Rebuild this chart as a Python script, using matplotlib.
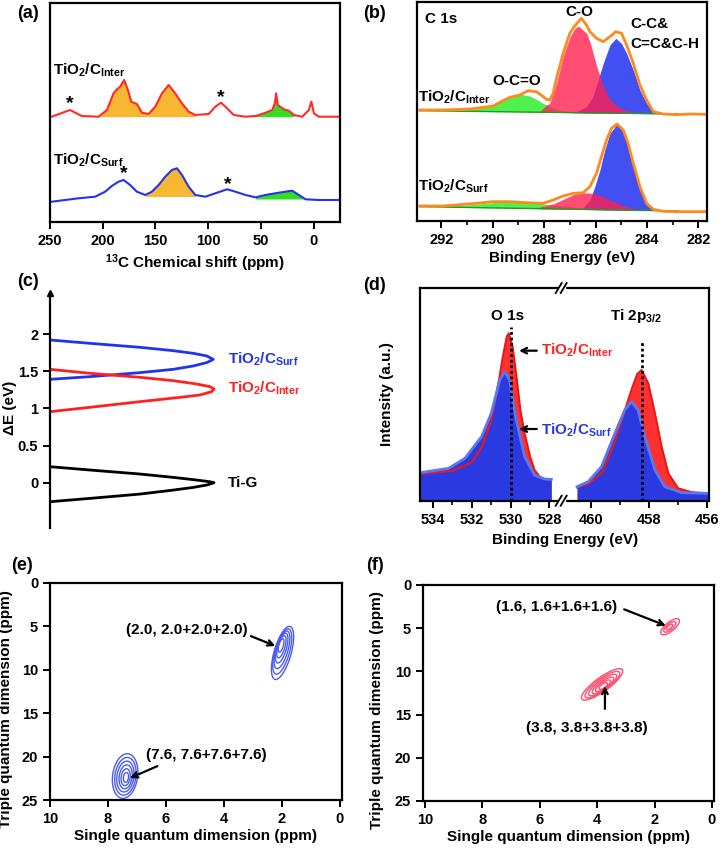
import numpy as np
import matplotlib.pyplot as plt
from matplotlib.patches import Ellipse, Rectangle
from matplotlib.lines import Line2D
from matplotlib.transforms import ScaledTranslation

plt.rcParams['font.family'] = 'Liberation Sans'
plt.rcParams['font.weight'] = 'bold'
plt.rcParams['axes.labelweight'] = 'bold'
plt.rcParams['mathtext.fontset'] = 'custom'
plt.rcParams['mathtext.rm'] = 'Liberation Sans:bold'
plt.rcParams['mathtext.it'] = 'Liberation Sans:bold'
plt.rcParams['mathtext.bf'] = 'Liberation Sans:bold'
plt.rcParams['axes.linewidth'] = 1.6
plt.rcParams['xtick.major.width'] = 1.4
plt.rcParams['ytick.major.width'] = 1.4
plt.rcParams['xtick.minor.width'] = 1.2
plt.rcParams['xtick.labelsize'] = 10.5
plt.rcParams['ytick.labelsize'] = 10.5

# ---- (a) 13C NMR ----
nmr_ppm_inter = [248.4, 231, 219.9, 204, 196, 189.8, 186.6, 183.5, 179.7, 176.1, 173, 167.6,
                 162.8, 156.5, 150.2, 143.8, 137.5, 131.2, 124.8, 118.5, 112.2, 99.5, 93.2,
                 87.8, 82, 75.8, 64.6, 55.1, 45.6, 39.3, 36.8, 35.6, 34, 28.2, 23.5, 18.7,
                 10.8, 4.5, 2.2, -0.3, -5, -25]
nmr_inter = [105.3, 112, 106, 105.3, 112, 128.6, 132.6, 135.3, 142, 132, 120.3, 118,
             109.3, 108, 115.3, 128.6, 137, 128.6, 118.6, 110.3, 107, 108, 115.3,
             119.3, 113.6, 107, 105.3, 106, 109.3, 112, 118.6, 128.6, 117, 112.6, 111.3, 107,
             105.3, 112, 120.3, 108.6, 105.3, 105.3]
nmr_ppm_surf = [248.4, 223, 207.2, 197.7, 191.4, 185, 180.3, 174, 167.6, 159.7, 153.4, 147,
                140.7, 134.4, 129.6, 124.8, 118.5, 112.2, 102.7, 93.2, 82, 74.2, 64.6, 55.1,
                45.6, 33, 20.3, 14, 7.6, -5, -25]
nmr_surf = [20.3, 23.7, 25.3, 30.3, 36, 40.3, 42, 37, 30.3, 27, 30.3, 37,
            45.3, 52, 53.7, 47, 35.3, 27, 25.3, 28.7, 32.7, 30.3, 27, 24.7,
            27, 29.3, 31.3, 27, 22.7, 22, 22]
nmr_stars = [(231, 118), (88, 124), (180, 48), (81, 37)]

# ---- (b) XPS C 1s ----
c1s_ev = [292.84, 291.94, 290.9, 290.64, 289.99, 289.6, 289.34, 288.95, 288.62, 288.3, 288.04,
          287.91, 287.78, 287.65, 287.52, 287.26, 287.0, 286.81, 286.55, 286.35, 286.22, 285.96,
          285.7, 285.44, 285.21, 284.99, 284.79, 284.53, 284.27, 284.01, 283.75, 283.36,
          282.84, 282.3, 281.68]
c1s_inter = [330, 330, 333, 335, 342, 358, 368, 375, 388, 385, 370,
             362, 360, 380, 425, 500, 560, 582, 605, 585, 565, 545,
             535, 550, 565, 560, 525, 470, 405, 360, 325, 318,
             316, 318, 317]
c1s_ev_surf = [292.84, 291.94, 290.64, 289.99, 289.34, 288.69, 288.04, 287.65, 287.26, 286.87,
               286.48, 286.22, 285.96, 285.77, 285.57, 285.38, 285.16, 284.92, 284.73, 284.53,
               284.27, 284.01, 283.75, 283.36, 282.84, 281.68]
c1s_surf = [42, 42, 50, 55, 55, 52, 50, 60, 72, 80,
            82, 100, 140, 190, 240, 275, 288, 270, 230, 170,
            100, 50, 32, 26, 25, 25]
bg_inter = ([292.84, 282.8], [328, 318])
bg_surf = ([292.84, 282.8], [40, 27])
# fitted components (top edge), Inter sample
oco_ev = [291.5, 290.65, 290.0, 289.6, 289.34, 288.95, 288.56, 288.3, 288.04, 287.78, 287.52, 287.26, 286.73, 286.0]
oco_int = [328, 333, 343, 360, 370, 378, 372, 362, 350, 340, 332, 327, 324, 323]
co_ev = [288.2, 287.91, 287.78, 287.52, 287.26, 286.99, 286.8, 286.67, 286.34, 286.2, 285.95,
         285.69, 285.43, 285.04, 284.65, 284.2]
co_int = [323, 345, 350, 410, 490, 550, 575, 582, 560, 530, 460, 400, 360, 335, 325, 321]
cc_ev = [286.9, 286.74, 286.35, 286.1, 285.9, 285.7, 285.44, 285.21, 284.99, 284.79, 284.53,
         284.27, 284.01, 283.75, 283.4]
cc_int = [323, 325, 340, 370, 420, 470, 525, 545, 530, 500, 450, 390, 350, 330, 321]
# Surf sample
oco_s_ev = [291.9, 291.0, 290.3, 289.6, 289.2, 288.7, 288.0, 287.3, 286.5, 285.5]
oco_s = [41, 45, 50, 55, 57, 54, 48, 42, 36, 33]
co_s_ev = [288.2, 287.65, 287.26, 286.87, 286.48, 286.1, 285.7, 285.3, 284.9, 284.5, 284.0]
co_s = [38, 48, 62, 76, 82, 80, 70, 55, 42, 33, 30]
cc_s_ev = [286.48, 286.22, 286.03, 285.83, 285.64, 285.44, 285.16, 284.92, 284.73, 284.53,
           284.27, 284.01, 283.75, 283.4]
cc_s = [36, 60, 100, 150, 210, 260, 288, 265, 220, 160, 90, 45, 30, 28]

# ---- (c) energy distributions ----
surf_x = [0, 40, 90, 123.3, 143.3, 156.7, 163.3, 156.7, 143.3, 123.3, 90, 40, 0]
surf_de = [1.923, 1.878, 1.824, 1.779, 1.743, 1.708, 1.662, 1.618, 1.573, 1.528, 1.483, 1.429, 1.393]
inter_x = [0, 40, 90, 123.3, 146.7, 160, 164, 161.7, 150, 130, 90, 40, 0]
inter_de = [1.528, 1.474, 1.42, 1.375, 1.33, 1.294, 1.263, 1.227, 1.182, 1.15, 1.092, 1.016, 0.957]
tig_x = [0, 40, 90, 123.3, 146.7, 160, 164, 156.7, 143.3, 123.3, 90, 40, 0]
tig_de = [0.216, 0.171, 0.117, 0.072, 0.036, 0.013, 0.0, -0.031, -0.063, -0.099, -0.153, -0.211, -0.256]

# ---- (d) O 1s / Ti 2p ----
o1s_ev_surf = [534.67, 533.2, 532.36, 531.5, 531.0, 530.56, 530.31, 530.05, 529.97, 529.71,
               529.28, 528.77, 528.26, 527.91]
o1s_surf = [84, 97, 127, 192, 262, 362, 387, 362, 332, 242, 132, 77, 65, 64]
o1s_ev_inter = [534.67, 533.0, 532.0, 531.5, 531.0, 530.6, 530.4, 530.2, 530.1, 529.9, 529.7,
                529.5, 529.28, 529.0, 528.77, 528.5, 528.26, 527.91]
o1s_inter = [80, 90, 115, 160, 240, 362, 432, 492, 502, 462, 372, 272, 202, 132, 92, 72, 65, 64]
ti_ev_surf = [460.47, 460.09, 459.63, 459.17, 458.83, 458.6, 458.37, 458.14, 457.79, 457.45,
              456.87, 455.95]
ti_surf = [42, 57, 102, 202, 272, 297, 272, 192, 92, 42, 24, 22]
ti_ev_inter = [460.47, 460.1, 459.6, 459.2, 458.83, 458.6, 458.4, 458.25, 458.02, 457.79,
               457.56, 457.33, 456.99, 456.5, 455.95]
ti_inter = [40, 50, 85, 170, 270, 332, 380, 392, 352, 262, 162, 82, 37, 25, 22]

# ---- (e), (f) MQMAS contours: centre (ppm, ppm), major/minor (px), angle (deg) ----
e_peak1 = dict(x=[1.98, 1.99, 2.00, 2.01, 2.02, 2.03], y=[8.06, 7.9, 7.7, 7.5, 7.35, 7.2],
               major=[55, 47, 39, 31, 23, 14], minor=[17, 14.5, 12, 9.5, 7, 4.5], angle=74)
e_peak2 = dict(x=[7.41, 7.40, 7.40, 7.39, 7.39, 7.38], y=[22.24, 22.27, 22.3, 22.33, 22.37, 22.4],
               major=[45, 38, 31, 24, 17, 10], minor=[25, 21, 17, 13, 9, 5], angle=82)
f_peak1 = dict(x=[1.46, 1.47, 1.48], y=[4.83, 4.85, 4.87],
               major=[23, 15, 8], minor=[9, 6, 3], angle=39)
f_peak2 = dict(x=[3.83, 3.82, 3.81, 3.80, 3.80, 3.79], y=[11.5, 11.54, 11.58, 11.62, 11.66, 11.69],
               major=[50, 42, 34, 26, 18, 10], minor=[14, 12, 10, 8, 6, 4], angle=36)

INTER = r'TiO$_2$/C$_{\rm Inter}$'
SURF = r'TiO$_2$/C$_{\rm Surf}$'

W, H = 724, 849
fig = plt.figure(figsize=(W / 100, H / 100), dpi=100)


def box(l, t, r, b):
    return fig.add_axes([l / W, 1 - b / H, (r - l) / W, (b - t) / H])


def ticks_out(ax):
    ax.tick_params(direction='out', length=5, which='major')
    ax.tick_params(direction='out', length=3, which='minor')


# panel (a)
ax = box(50, 3, 340, 222)
x = np.array(nmr_ppm_inter); y = np.array(nmr_inter)
m = (x <= 204) & (x >= 112)
ax.fill_between(x[m], 105.3, y[m], color='#f7b733', lw=0)
m = (x <= 58) & (x >= 15)
ax.fill_between(x[m], 105.3, y[m], color='#33dd22', lw=0)
x = np.array(nmr_ppm_surf); y = np.array(nmr_surf)
m = (x <= 160) & (x >= 112)
ax.fill_between(x[m], 25.5, y[m], color='#f7b733', lw=0)
m = (x <= 58) & (x >= 7)
ax.fill_between(x[m], 23, y[m], color='#33dd22', lw=0)
ax.plot(nmr_ppm_inter, nmr_inter, color='#ff2a2a', lw=1.5)
ax.plot(nmr_ppm_surf, nmr_surf, color='#2233ee', lw=1.5)
for px, py in nmr_stars:
    ax.text(px, py, '*', fontsize=14, ha='center', va='center')
ax.text(247, 152, INTER, fontsize=11, va='center')
ax.text(247, 62, SURF, fontsize=11, va='center')
ax.set_xlim(250, -25)
ax.set_ylim(0, 219)
ax.set_yticks([])
ax.set_xticks([250, 200, 150, 100, 50, 0])
ticks_out(ax)
ax.set_xlabel(r'$^{13}$C Chemical shift (ppm)', fontsize=11, labelpad=3)

# panel (b)
ax = box(417, 2, 707, 221)
for ev, it, c in [(oco_ev, oco_int, '#22ee22'), (cc_ev, cc_int, '#1424ee'), (co_ev, co_int, '#ff2050')]:
    base = np.interp(ev[::-1], bg_inter[0][::-1], bg_inter[1][::-1])[::-1]
    ax.fill_between(ev, base, it, color=c, alpha=0.8, lw=0)
for ev, it, c in [(oco_s_ev, oco_s, '#22ee22'), (cc_s_ev, cc_s, '#1424ee'), (co_s_ev, co_s, '#ff2050')]:
    base = np.interp(ev[::-1], bg_surf[0][::-1], bg_surf[1][::-1])[::-1]
    ax.fill_between(ev, base, it, color=c, alpha=0.8, lw=0)
ax.plot(*bg_inter, color='#229922', lw=1)
ax.plot(*bg_surf, color='#229922', lw=1)
ax.plot(c1s_ev, c1s_inter, color='#ff8a1c', lw=2)
ax.plot(c1s_ev_surf, c1s_surf, color='#ff8a1c', lw=2)
ax.text(292.0, 603, 'C 1s', fontsize=11, ha='center', va='center')
ax.text(286.61, 624, 'C-O', fontsize=11, ha='center', va='center')
ax.text(284.66, 588, 'C-C&', fontsize=11, ha='left', va='center')
ax.text(284.66, 528, 'C=C&C-H', fontsize=11, ha='left', va='center')
ax.text(289.07, 417, 'O-C=O', fontsize=11, ha='center', va='center')
ax.text(292.92, 369, INTER, fontsize=11, ha='left', va='center')
ax.text(292.92, 102, SURF, fontsize=11, ha='left', va='center')
ax.set_xlim(292.95, 281.66)
ax.set_ylim(-3, 654)
ax.set_yticks([])
ax.set_xticks([292, 290, 288, 286, 284, 282])
ax.set_xticks([291, 289, 287, 285, 283], minor=True)
ticks_out(ax)
ax.set_xlabel('Binding Energy (eV)', fontsize=11, labelpad=3)

# panel (c)
ax = box(50, 293, 340, 528)
ax.plot(surf_x, surf_de, color='#2233ee', lw=2)
ax.plot(inter_x, inter_de, color='#ff2020', lw=2)
ax.plot(tig_x, tig_de, color='black', lw=2)
ax.text(178, 1.66, SURF, color='#2233ee', fontsize=11, va='center')
ax.text(178, 1.27, INTER, color='#ff2020', fontsize=11, va='center')
ax.text(178, 0.0, 'Ti-G', color='black', fontsize=11, va='center')
for s in ['top', 'right', 'bottom']:
    ax.spines[s].set_visible(False)
ax.plot(0, 1, marker='^', color='black', ms=5, transform=ax.transAxes, clip_on=False)
ax.set_xlim(0, 290)
ax.set_ylim(-0.61, 2.556)
ax.set_xticks([])
ax.set_yticks([0, 0.5, 1, 1.5, 2])
ax.set_yticklabels(['0', '0.5', '1', '1.5', '2'])
ticks_out(ax)
ax.set_ylabel('ΔE (eV)', fontsize=11)
ax.yaxis.set_label_coords(-0.115, 0.51)

# panel (d)
axl = box(420, 288, 561.7, 500.7)
axr = box(561.7, 288, 709, 500.7)
axr.patch.set_visible(False)
for a, ev_i, it_i, ev_s, it_s in [(axl, o1s_ev_inter, o1s_inter, o1s_ev_surf, o1s_surf),
                                  (axr, ti_ev_inter, ti_inter, ti_ev_surf, ti_surf)]:
    a.fill_between(ev_i, 0, it_i, color='#ff3030', lw=0)
    a.plot(ev_i, it_i, color='#e81818', lw=1.5)
    a.fill_between(ev_s, 0, it_s, color='#2a3ae0', lw=0)
    a.plot(ev_s, it_s, color='#5a78f0', lw=2)
    a.set_ylim(0, 638)
    a.set_yticks([])
    ticks_out(a)
axl.set_xlim(534.67, 527.37)
axr.set_xlim(461.0, 455.93)
axl.set_xticks([534, 532, 530, 528])
axl.set_xticks([533, 531, 529], minor=True)
axr.set_xticks([460, 458, 456])
axr.set_xticks([459, 457], minor=True)
axl.spines['right'].set_visible(False)
axr.spines['left'].set_visible(False)
axl.plot([530.0, 530.0], [0, 522], ls=(0, (1, 1)), color='black', lw=2)
axr.plot([458.25, 458.25], [0, 477], ls=(0, (1, 1)), color='black', lw=2)
axl.text(530.18, 554, 'O 1s', fontsize=11, ha='center', va='center')
axr.text(458.45, 554, r'Ti 2p$_{3/2}$', fontsize=11, ha='center', va='center')
axl.annotate('', xy=(529.71, 450), xytext=(528.51, 450),
             arrowprops=dict(arrowstyle='->', lw=1.6, color='black'))
axl.annotate('', xy=(529.71, 215), xytext=(528.51, 215),
             arrowprops=dict(arrowstyle='->', lw=1.6, color='black'))
axl.text(528.46, 452, INTER, color='#ff2020', fontsize=11, va='center', zorder=10)
axl.text(528.46, 212, SURF, color='#2a3ae0', fontsize=11, va='center', zorder=10)
axl.set_ylabel('Intensity (a.u.)', fontsize=11)
axl.yaxis.set_label_coords(-0.18, 0.5)
fig.text(565 / W, 1 - 540 / H, 'Binding Energy (eV)', fontsize=11, ha='center', va='center')
for yb in [288, 500.7]:
    fig.add_artist(Rectangle(((559) / W, 1 - (yb + 3) / H), 6 / W, 6 / H, color='white',
                             transform=fig.transFigure, zorder=5))
    for dx in [-3, 2]:
        fig.add_artist(Line2D([(561.7 + dx - 3) / W, (561.7 + dx + 3) / W],
                              [1 - (yb + 5) / H, 1 - (yb - 5) / H],
                              color='black', lw=1.3, transform=fig.transFigure, zorder=6))


def contours(ax, pk, color):
    for i in range(len(pk['x'])):
        tr = fig.dpi_scale_trans + ScaledTranslation(pk['x'][i], pk['y'][i], ax.transData)
        ax.add_patch(Ellipse((0, 0), pk['major'][i] / 100, pk['minor'][i] / 100, angle=pk['angle'],
                             transform=tr, fill=False, ec=color, lw=1.0))


# panel (e)
ax = box(50, 583, 342, 800)
ax.set_xlim(10, -0.07)
ax.set_ylim(25, 0)
contours(ax, e_peak1, '#4a5cf0')
contours(ax, e_peak2, '#4a5cf0')
ax.text(5.28, 5.4, '(2.0, 2.0+2.0+2.0)', fontsize=11, ha='center', va='center')
ax.annotate('', xy=(2.14, 7.37), xytext=(3.16, 6.0), arrowprops=dict(arrowstyle='->', lw=1.6))
ax.text(4.62, 19.8, '(7.6, 7.6+7.6+7.6)', fontsize=11, ha='center', va='center')
ax.annotate('', xy=(7.33, 22.6), xytext=(6.21, 20.97), arrowprops=dict(arrowstyle='->', lw=1.6))
ax.set_xticks([10, 8, 6, 4, 2, 0])
ax.set_yticks([0, 5, 10, 15, 20, 25])
ticks_out(ax)
ax.set_xlabel('Single quantum dimension (ppm)', fontsize=11, labelpad=2)
ax.set_ylabel('Triple quantum dimension (ppm)', fontsize=11)
ax.yaxis.set_label_coords(-0.125, 0.42)

# panel (f)
ax = box(423, 585, 714, 801)
ax.set_xlim(10.07, -0.07)
ax.set_ylim(25, 0)
contours(ax, f_peak1, '#ff4d6d')
contours(ax, f_peak2, '#ff4d6d')
ax.text(5.4, 2.55, '(1.6, 1.6+1.6+1.6)', fontsize=11, ha='center', va='center')
ax.annotate('', xy=(1.52, 4.82), xytext=(3.15, 2.7), arrowprops=dict(arrowstyle='->', lw=1.6))
ax.text(4.36, 16.5, '(3.8, 3.8+3.8+3.8)', fontsize=11, ha='center', va='center')
ax.annotate('', xy=(3.73, 11.38), xytext=(3.73, 14.66), arrowprops=dict(arrowstyle='->', lw=1.6))
ax.set_xticks([10, 8, 6, 4, 2, 0])
ax.set_yticks([0, 5, 10, 15, 20, 25])
ticks_out(ax)
ax.set_xlabel('Single quantum dimension (ppm)', fontsize=11, labelpad=2)
ax.set_ylabel('Triple quantum dimension (ppm)', fontsize=11)
ax.yaxis.set_label_coords(-0.135, 0.42)

for lab, px, py in [('(a)', 28, 13), ('(b)', 375, 13), ('(c)', 28, 282),
                    ('(d)', 375, 286), ('(e)', 22, 566), ('(f)', 375, 566)]:
    fig.text(px / W, 1 - py / H, lab, fontsize=13, ha='center', va='center')

fig.savefig('out.png', dpi=100)
